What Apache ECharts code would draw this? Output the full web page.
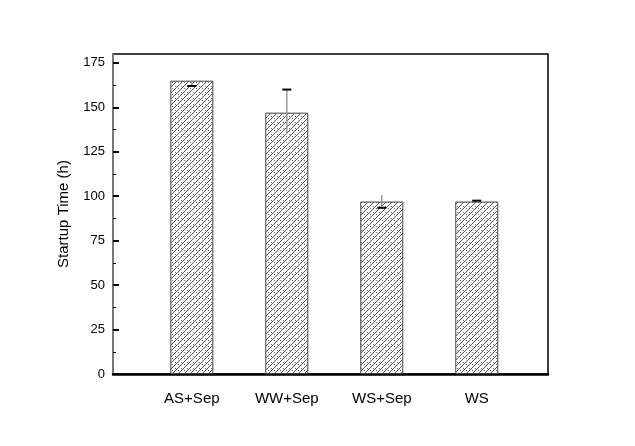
<!DOCTYPE html>
<html>
<head>
<meta charset="utf-8">
<script src="https://cdn.jsdelivr.net/npm/echarts@6/dist/echarts.min.js"></script>
<style>
html, body { margin: 0; padding: 0; background: #fff; }
#chart { width: 635px; height: 446px; }
</style>
</head>
<body>
<div id="chart"></div>
<script>
// data
var categories = ['AS+Sep', 'WW+Sep', 'WS+Sep', 'WS'];
var positions = [1, 2, 3, 4];
var startupTime = [165, 147, 97, 97];
var errLow = [3, 12, 3.5, 0];
var errHigh = [0, 13, 3.5, 0.5];
var capSide = ['low', 'high', 'low', 'high']; // which end shows a cap
var yMajorTicks = [0, 25, 50, 75, 100, 125, 150, 175];
var yMinorTicks = [12.5, 37.5, 62.5, 87.5, 112.5, 137.5, 162.5];

var chart = echarts.init(document.getElementById('chart'));

// hatch fill: "/" lines + dots
function makeHatch() {
    var c = document.createElement('canvas');
    c.width = 6; c.height = 6;
    var g = c.getContext('2d');
    g.fillStyle = '#fff';
    g.fillRect(0, 0, 6, 6);
    g.strokeStyle = '#555';
    g.lineWidth = 1;
    g.beginPath();
    g.moveTo(0, 6); g.lineTo(6, 0);
    g.moveTo(-1, 1); g.lineTo(1, -1);
    g.moveTo(5, 7); g.lineTo(7, 5);
    g.stroke();
    g.fillStyle = '#666';
    g.fillRect(4, 4, 1, 1);
    g.fillRect(1, 2, 1, 1);
    return c;
}

var barData = positions.map(function (p, i) { return [p, startupTime[i]]; });
var errData = positions.map(function (p, i) {
    return [p, startupTime[i] - errLow[i], startupTime[i] + errHigh[i], capSide[i] === 'low' ? 0 : 1];
});

var option = {
    backgroundColor: '#fff',
    animation: false,
    grid: {
        left: 113, right: 87, top: 54, bottom: 72,
        show: true,
        borderColor: '#000',
        borderWidth: 1.5,
        backgroundColor: 'transparent'
    },
    xAxis: {
        type: 'value',
        min: 0.17,
        max: 4.75,
        splitLine: { show: false },
        axisTick: { show: false },
        axisLine: { lineStyle: { color: '#000', width: 2.5 } },
        axisLabel: {
            customValues: positions,
            formatter: function (v) { return categories[Math.round(v) - 1]; },
            fontFamily: 'Liberation Sans',
            fontSize: 15,
            color: '#000',
            margin: 17
        }
    },
    yAxis: [{
        type: 'value',
        min: 0,
        max: 180,
        name: 'Startup Time (h)',
        nameLocation: 'middle',
        nameGap: 42,
        nameTextStyle: { fontFamily: 'Liberation Sans', fontSize: 15, color: '#000' },
        splitLine: { show: false },
        axisLine: { show: true, lineStyle: { color: '#777', width: 2 } },
        axisTick: { inside: true, length: 6, customValues: yMajorTicks, lineStyle: { color: '#000', width: 2 } },
        axisLabel: {
            customValues: yMajorTicks,
            fontFamily: 'Liberation Sans',
            fontSize: 13,
            color: '#000',
            margin: 8
        }
    }, {
        type: 'value',
        min: 0,
        max: 180,
        position: 'left',
        splitLine: { show: false },
        axisLine: { show: false },
        axisLabel: { show: false },
        axisTick: { inside: true, length: 3, customValues: yMinorTicks, lineStyle: { color: '#000', width: 1 } }
    }],
    series: [{
        type: 'bar',
        data: barData,
        barWidth: 43,
        itemStyle: {
            color: { image: makeHatch(), repeat: 'repeat' },
            borderColor: '#444',
            borderWidth: 1
        },
        z: 2
    }, {
        type: 'custom',
        data: errData,
        z: 5,
        renderItem: function (params, api) {
            var x = api.value(0);
            var lo = api.coord([x, api.value(1)]);
            var hi = api.coord([x, api.value(2)]);
            var cap = api.value(3) === 1 ? hi : lo;
            var hw = 4.5;
            return {
                type: 'group',
                children: [{
                    type: 'line',
                    shape: { x1: lo[0], y1: lo[1], x2: hi[0], y2: hi[1] },
                    style: { stroke: '#999', lineWidth: 1.5 }
                }, {
                    type: 'line',
                    shape: { x1: cap[0] - hw, y1: cap[1], x2: cap[0] + hw, y2: cap[1] },
                    style: { stroke: '#000', lineWidth: 2 }
                }]
            };
        }
    }]
};
chart.setOption(option);
</script>
</body>
</html>
